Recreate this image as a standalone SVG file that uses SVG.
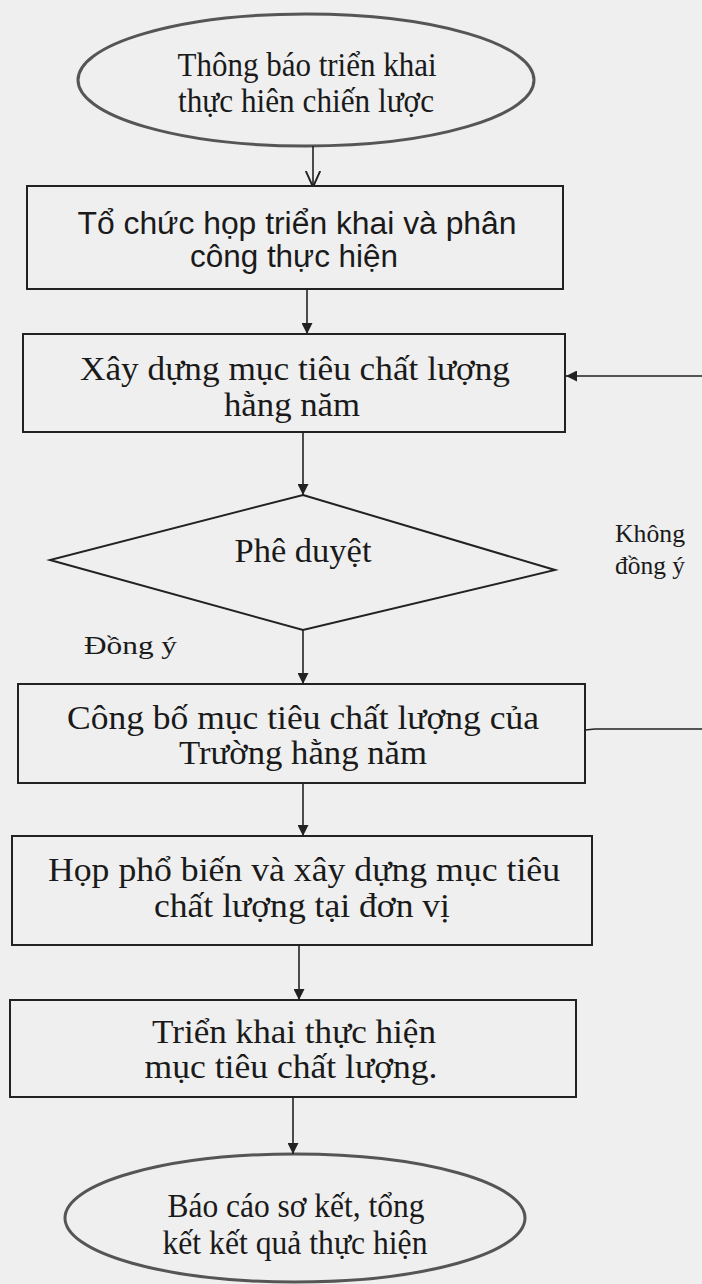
<svg xmlns="http://www.w3.org/2000/svg" width="702" height="1284" viewBox="0 0 702 1284">
<style>
.shape{fill:none;stroke:#222;stroke-width:2}
.ell{fill:none;stroke:#555;stroke-width:3}
.t{font-family:"Liberation Serif","Times New Roman",serif;font-size:33px;fill:#1a1a1a;text-anchor:middle}
.e{font-family:"Liberation Serif","Times New Roman",serif;font-size:34px;fill:#1a1a1a;text-anchor:middle}
.s{font-family:"Liberation Sans",Arial,sans-serif;font-size:31px;fill:#1a1a1a;text-anchor:middle}
.lbl{font-family:"Liberation Serif","Times New Roman",serif;font-size:25px;fill:#1a1a1a}
.c{fill:none;stroke:#222;stroke-width:1.6}
</style>
<defs>
<marker id="fa" viewBox="0 0 10 10" refX="10" refY="5" markerWidth="11" markerHeight="11" markerUnits="userSpaceOnUse" orient="auto"><path d="M0,0 L10,5 L0,10 Z" fill="#222"/></marker>
<marker id="oa" viewBox="0 0 10 10" refX="10" refY="5" markerWidth="16" markerHeight="16" markerUnits="userSpaceOnUse" orient="auto"><path d="M0,0.5 L10,5 L0,9.5" fill="none" stroke="#222" stroke-width="1.2"/></marker>
</defs>
<rect width="702" height="1284" fill="#efefef"/>
<g id="n1"><ellipse class="ell" cx="306" cy="80" rx="228" ry="66"/>
<text class="e" x="307" y="76" textLength="259" lengthAdjust="spacingAndGlyphs">Thông báo triển khai</text>
<text class="e" x="306" y="112" textLength="256" lengthAdjust="spacingAndGlyphs">thực hiên chiến lược</text></g>
<g id="n2"><rect class="shape" x="27" y="186" width="536" height="103"/>
<text class="s" x="297" y="234" textLength="439" lengthAdjust="spacingAndGlyphs">Tổ chức họp triển khai và phân</text>
<text class="s" x="294" y="267" textLength="208" lengthAdjust="spacingAndGlyphs">công thực hiện</text></g>
<g id="n3"><rect class="shape" x="23" y="334" width="542" height="98"/>
<text class="t" x="295" y="380" textLength="430" lengthAdjust="spacingAndGlyphs">Xây dựng mục tiêu chất lượng</text>
<text class="t" x="292" y="416" textLength="136" lengthAdjust="spacingAndGlyphs">hằng năm</text></g>
<g id="n4"><polygon class="shape" points="303,495 555,570 303,630 50,560"/>
<text class="t" x="303" y="562" textLength="137" lengthAdjust="spacingAndGlyphs">Phê duyệt</text></g>
<g id="n5"><rect class="shape" x="18" y="684" width="567" height="99"/>
<text class="t" x="303" y="729" textLength="472" lengthAdjust="spacingAndGlyphs">Công bố mục tiêu chất lượng của</text>
<text class="t" x="303" y="764" textLength="248" lengthAdjust="spacingAndGlyphs">Trường hằng năm</text></g>
<g id="n6"><rect class="shape" x="12" y="836" width="580" height="109"/>
<text class="t" x="304" y="881" textLength="512" lengthAdjust="spacingAndGlyphs">Họp phổ biến và xây dựng mục tiêu</text>
<text class="t" x="302" y="917" textLength="296" lengthAdjust="spacingAndGlyphs">chất lượng tại đơn vị</text></g>
<g id="n7"><rect class="shape" x="10" y="1000" width="566" height="97"/>
<text class="t" x="294" y="1043" textLength="284" lengthAdjust="spacingAndGlyphs">Triển khai thực hiện</text>
<text class="t" x="291" y="1078" textLength="293" lengthAdjust="spacingAndGlyphs">mục tiêu chất lượng.</text></g>
<g id="n8"><ellipse class="ell" cx="295" cy="1218" rx="230" ry="64"/>
<text class="e" x="296" y="1217" textLength="257" lengthAdjust="spacingAndGlyphs">Báo cáo sơ kết, tổng</text>
<text class="e" x="295" y="1254" textLength="265" lengthAdjust="spacingAndGlyphs">kết kết quả thực hiện</text></g>
<g id="labels">
<text class="lbl" x="84" y="654" textLength="93" lengthAdjust="spacingAndGlyphs">Đồng ý</text>
<text class="lbl" x="615" y="542" textLength="70" lengthAdjust="spacingAndGlyphs">Không</text>
<text class="lbl" x="615" y="574" textLength="70" lengthAdjust="spacingAndGlyphs">đồng ý</text>
</g>
<g id="connectors">
<line class="c" x1="313" y1="146" x2="313" y2="187" marker-end="url(#oa)"/>
<line class="c" x1="307" y1="289" x2="307" y2="334" marker-end="url(#fa)"/>
<line class="c" x1="303" y1="432" x2="303" y2="495" marker-end="url(#fa)"/>
<line class="c" x1="303" y1="630" x2="303" y2="684" marker-end="url(#fa)"/>
<line class="c" x1="303" y1="783" x2="303" y2="836" marker-end="url(#fa)"/>
<line class="c" x1="299" y1="945" x2="299" y2="1000" marker-end="url(#fa)"/>
<line class="c" x1="293" y1="1097" x2="293" y2="1154" marker-end="url(#fa)"/>
<polyline class="c" points="585,730 595,729 702,729"/>
<line class="c" x1="702" y1="376" x2="566" y2="376" marker-end="url(#fa)"/>
</g>
</svg>
